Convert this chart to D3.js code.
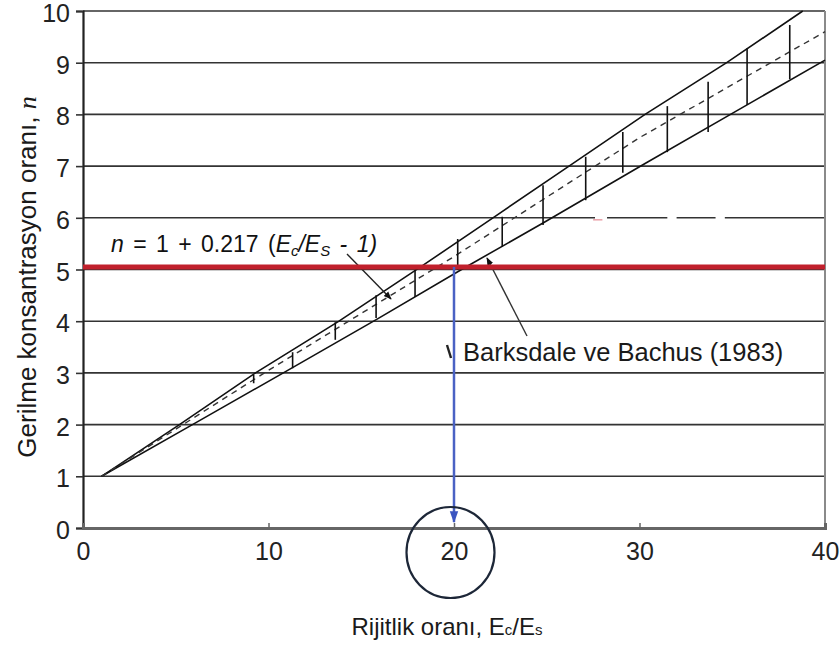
<!DOCTYPE html>
<html>
<head>
<meta charset="utf-8">
<script src="https://cdn.jsdelivr.net/npm/d3@7"></script>
<style>
  body { margin: 0; background: #fff; }
  svg { display: block; font-family: "Liberation Sans", Arial, sans-serif; }
  .grid line { stroke: #333; stroke-width: 1.6; }
  .band { fill: none; stroke: #111; stroke-width: 1.6; }
</style>
</head>
<body>
<svg id="chart" width="840" height="650"></svg>
<script>
// eksen değerleri
const xTicks = [0, 10, 20, 30, 40];
const yTicks = [0, 1, 2, 3, 4, 5, 6, 7, 8, 9, 10];

// bant sınırları (okunan noktalar) [Ec/Es, n]
const upperBound = [[1, 1], [5.2, 2], [9.3, 3], [13.8, 4], [18.2, 5.05], [22.1, 6], [26.2, 7], [30.3, 8], [34.7, 9], [38.8, 10]];
const lowerBound = [[1, 1], [5.9, 2], [10.8, 3], [15.9, 4.05], [20.5, 5.02], [24.8, 5.9], [30.3, 7.05], [35.0, 8.02], [40, 9.05]];
const meanLine = [[1, 1], [10, 3.05], [20, 5.25], [30, 7.55], [40, 9.6]];

// dikey çizgiler [x, alt, üst]
const hatchX = [9.2, 11.3, 13.6, 15.8, 17.9, 20.2, 22.6, 24.8, 27.1, 29.1, 31.5, 33.7, 35.8, 38.1];
const hatchLo = [2.8, 3.09, 3.64, 4.06, 4.47, 4.99, 5.44, 5.86, 6.34, 6.87, 7.27, 7.66, 8.18, 8.68];
const hatchHi = [2.96, 3.40, 3.98, 4.50, 4.99, 5.59, 6.02, 6.63, 7.18, 7.66, 8.16, 8.63, 9.28, 9.73];

const refN = 5.05;   // kırmızı çizgi
const refX = 20;     // mavi ok

const svg = d3.select("#chart");
const x = d3.scaleLinear().domain([0, 40]).range([83, 825]);
const y = d3.scaleLinear().domain([0, 10]).range([528, 11]);

// yatay ızgara
const grid = svg.append("g").attr("class", "grid");
grid.selectAll("line").data(yTicks.filter(d => d > 0)).join("line")
  .attr("x1", x(0)).attr("x2", x(40))
  .attr("y1", d => y(d)).attr("y2", d => y(d));

// silinmiş parçalar (n = 6 çizgisi üzerinde)
[[27.6, 28.25], [31.5, 32.0], [34.1, 34.6]].forEach(([a, b]) => {
  svg.append("line").attr("x1", x(a)).attr("x2", x(b)).attr("y1", y(6)).attr("y2", y(6))
    .attr("stroke", "#fff").attr("stroke-width", 3);
});
svg.append("line").attr("x1", x(27.5)).attr("x2", x(28.0)).attr("y1", y(6) + 2).attr("y2", y(6) + 2)
  .attr("stroke", "#e9a0a8").attr("stroke-width", 1.5);

// sağ kenar
svg.append("line")
  .attr("x1", x(40)).attr("x2", x(40)).attr("y1", y(10)).attr("y2", y(0))
  .attr("stroke", "#8a8a8a").attr("stroke-width", 2);

// y ekseni
const yAxis = d3.axisLeft(y).tickValues(yTicks).tickSize(7).tickPadding(6);
svg.append("g").attr("transform", `translate(${x(0)},0)`).call(yAxis)
  .call(g => g.select(".domain").attr("stroke", "#222").attr("stroke-width", 2.2))
  .call(g => g.selectAll(".tick line").attr("stroke", "#333").attr("stroke-width", 1.6))
  .call(g => g.selectAll(".tick text").attr("font-size", 25).attr("fill", "#222")
    .attr("dy", "0.42em")
    .attr("font-family", "Liberation Sans, Arial, sans-serif"));

// x ekseni
const xAxis = d3.axisBottom(x).tickValues(xTicks).tickSize(-5).tickPadding(14);
svg.append("g").attr("transform", `translate(0,${y(0)})`).call(xAxis)
  .call(g => g.select(".domain").attr("stroke", "#666").attr("stroke-width", 3))
  .call(g => g.selectAll(".tick line").attr("stroke", "#666").attr("stroke-width", 1.5))
  .call(g => g.selectAll(".tick text").attr("font-size", 25).attr("fill", "#222")
    .attr("font-family", "Liberation Sans, Arial, sans-serif"));

// bant
const line = d3.line().x(d => x(d[0])).y(d => y(d[1]));
svg.append("path").attr("class", "band").attr("d", line(upperBound));
svg.append("path").attr("class", "band").attr("d", line(lowerBound));
svg.append("path").attr("d", line(meanLine))
  .attr("fill", "none").attr("stroke", "#333").attr("stroke-width", 1.4)
  .attr("stroke-dasharray", "6,5");

svg.append("g").selectAll("line").data(hatchX).join("line")
  .attr("x1", d => x(d)).attr("x2", d => x(d))
  .attr("y1", (d, i) => y(hatchLo[i])).attr("y2", (d, i) => y(hatchHi[i]))
  .attr("stroke", "#111").attr("stroke-width", 1.6);

// oklar
const defs = svg.append("defs");
defs.append("marker").attr("id", "ahBlack").attr("viewBox", "0 0 10 10")
  .attr("refX", 9).attr("refY", 5).attr("markerWidth", 8).attr("markerHeight", 8)
  .attr("orient", "auto").attr("markerUnits", "userSpaceOnUse")
  .append("path").attr("d", "M0,1 L10,5 L0,9 Z").attr("fill", "#111");
defs.append("marker").attr("id", "ahBlue").attr("viewBox", "0 0 10 10")
  .attr("refX", 9).attr("refY", 5).attr("markerWidth", 12).attr("markerHeight", 12)
  .attr("orient", "auto").attr("markerUnits", "userSpaceOnUse")
  .append("path").attr("d", "M0,1.5 L10,5 L0,8.5 Z").attr("fill", "#3b55c0");

svg.append("line").attr("x1", 347).attr("y1", 254).attr("x2", 391).attr("y2", 299)
  .attr("stroke", "#222").attr("stroke-width", 1.4).attr("marker-end", "url(#ahBlack)");
svg.append("line").attr("x1", 527).attr("y1", 336).attr("x2", 487).attr("y2", 258)
  .attr("stroke", "#333").attr("stroke-width", 1.4).attr("marker-end", "url(#ahBlack)");

// kırmızı referans çizgisi
svg.append("line")
  .attr("x1", x(0)).attr("x2", x(40)).attr("y1", y(refN)).attr("y2", y(refN))
  .attr("stroke", "#c1202c").attr("stroke-width", 5);

// mavi ok
svg.append("line")
  .attr("x1", x(refX)).attr("x2", x(refX)).attr("y1", y(refN)).attr("y2", y(0) - 6)
  .attr("stroke", "#4a62c4").attr("stroke-width", 2.5).attr("marker-end", "url(#ahBlue)");

// daire
svg.append("ellipse").attr("cx", 450.5).attr("cy", 552.5).attr("rx", 44).attr("ry", 45.5)
  .attr("fill", "none").attr("stroke", "#1d2738").attr("stroke-width", 2.2);

// formül
const f = svg.append("text").attr("x", 111).attr("y", 252)
  .attr("font-size", 23).attr("word-spacing", 3).attr("fill", "#111").attr("font-style", "italic");
f.append("tspan").text("n");
f.append("tspan").attr("font-style", "normal").text(" = 1 + 0.217 (");
f.append("tspan").text("E");
f.append("tspan").attr("font-size", 15).attr("dy", 4).text("c");
f.append("tspan").attr("dy", -4).text("/E");
f.append("tspan").attr("font-size", 15).attr("dy", 4).text("S");
f.append("tspan").attr("dy", -4).text(" - 1)");

// Barksdale
svg.append("path").attr("d", "M447,345 L451,358")
  .attr("fill", "none").attr("stroke", "#222").attr("stroke-width", 2.4);
svg.append("text").attr("x", 463).attr("y", 361).attr("font-size", 25.5).attr("fill", "#1a1a1a")
  .text("Barksdale ve Bachus (1983)");

// eksen başlıkları
const yl = svg.append("text").attr("transform", "translate(36,277) rotate(-90)")
  .attr("text-anchor", "middle").attr("font-size", 26).attr("fill", "#1a1a1a");
yl.append("tspan").text("Gerilme konsantrasyon oranı, ");
yl.append("tspan").attr("font-family", "Liberation Serif, serif").attr("font-style", "italic").text("n");

const xl = svg.append("text").attr("x", 447).attr("y", 635)
  .attr("text-anchor", "middle").attr("font-size", 24).attr("fill", "#1a1a1a");
xl.append("tspan").text("Rijitlik oranı, E");
xl.append("tspan").attr("font-size", 15).text("c");
xl.append("tspan").text("/E");
xl.append("tspan").attr("font-size", 15).text("s");
</script>
</body>
</html>
